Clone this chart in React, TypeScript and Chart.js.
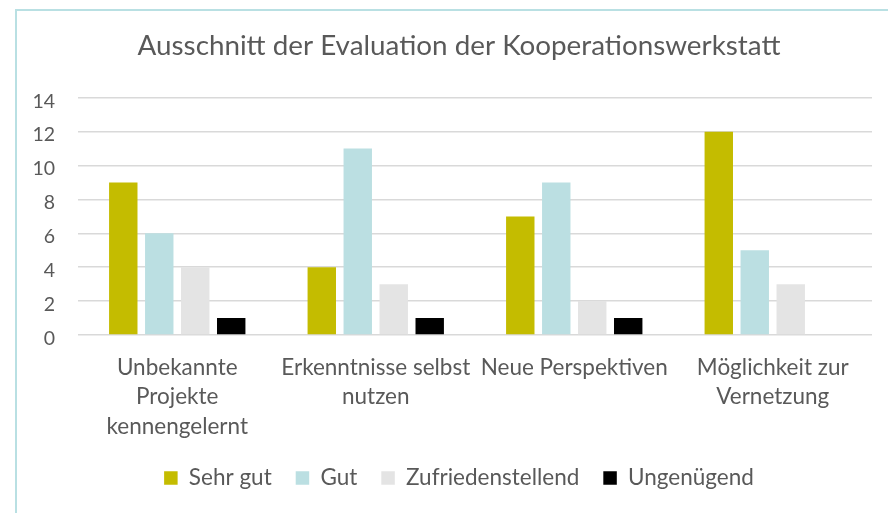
import React, { useEffect, useRef } from "react";
import { Chart, registerables } from "chart.js";

Chart.register(...registerables);

const categories: string[][] = [
  ["Unbekannte", "Projekte", "kennengelernt"],
  ["Erkenntnisse selbst", "nutzen"],
  ["Neue Perspektiven"],
  ["Möglichkeit zur", "Vernetzung"],
];
const seriesNames = ["Sehr gut", "Gut", "Zufriedenstellend", "Ungenügend"];
const sehrGut = [9, 4, 7, 12];
const gut = [6, 11, 9, 5];
const zufriedenstellend = [4, 3, 2, 3];
const ungenuegend: (number | null)[] = [1, 1, 1, null];
const yTickValues = [0, 2, 4, 6, 8, 10, 12, 14];
const titleText = "Ausschnitt der Evaluation der Kooperationswerkstatt";

const seriesColors = ["#c4bc00", "#bbdfe2", "#e4e4e4", "#000000"];
const textColor = "#595959";
const gridColor = "#d9d9d9";
const FONT = "Lato";

const CANVAS_W = 918;
const CANVAS_H = 513;

export default function App() {
  const ref = useRef<HTMLCanvasElement | null>(null);

  useEffect(() => {
    if (!ref.current) return;
    const values = [sehrGut, gut, zufriedenstellend, ungenuegend];
    const chart = new Chart(ref.current, {
      type: "bar",
      data: {
        labels: categories,
        datasets: seriesNames.map((name, i) => ({
          label: name,
          data: values[i],
          backgroundColor: seriesColors[i],
          borderWidth: 0,
          categoryPercentage: 0.725,
          barPercentage: 0.79,
          yAxisID: "y",
        })),
      },
      options: {
        responsive: false,
        animation: false,
        devicePixelRatio: 1,
        layout: { padding: { left: 0, right: 0, top: 0, bottom: 13.75 } },
        font: { family: FONT },
        plugins: {
          title: {
            display: true,
            text: titleText,
            color: textColor,
            font: { family: FONT, size: 27.8, weight: "normal", lineHeight: 1.2 },
            padding: { top: 29.3, bottom: 35.1 },
          },
          legend: {
            position: "bottom",
            labels: {
              color: textColor,
              font: { family: FONT, size: 22.5 },
              boxWidth: 13.5,
              boxHeight: 13.5,
              padding: 24,
            },
          },
          tooltip: { enabled: false },
        },
        scales: {
          x: {
            grid: { display: false, drawTicks: false },
            border: { display: false },
            ticks: {
              color: textColor,
              font: { family: FONT, size: 22.5, lineHeight: 29.5 / 22.5 },
              padding: 17.6,
              maxRotation: 0,
              minRotation: 0,
              autoSkip: false,
            },
            afterFit: (s: any) => {
              s.height = 107.75;
            },
          },
          y: {
            position: "left",
            min: 0,
            max: 14,
            grid: { color: gridColor, lineWidth: 1.5, drawTicks: false },
            border: { display: false },
            afterBuildTicks: (s: any) => {
              s.ticks = yTickValues.map((v) => ({ value: v }));
            },
            ticks: {
              color: textColor,
              font: { family: FONT, size: 19.5 },
              padding: 23,
              labelOffset: 3.5,
            },
            afterFit: (s: any) => {
              s.width = 78;
            },
          },
          yRight: {
            type: "linear",
            position: "right",
            display: true,
            grid: { display: false, drawTicks: false },
            border: { display: false },
            ticks: { display: false },
            afterFit: (s: any) => {
              s.width = CANVAS_W - 872;
            },
          },
        },
      },
    } as any);
    return () => chart.destroy();
  }, []);

  return (
    <div
      style={{
        position: "fixed",
        left: 0,
        top: 0,
        width: 888,
        height: 513,
        overflow: "hidden",
        background: "#ffffff",
      }}
    >
      <div
        style={{
          position: "absolute",
          left: 15,
          top: 9,
          width: 940,
          height: 560,
          border: "2px solid #b9e0e3",
          boxSizing: "border-box",
        }}
      />
      <canvas
        ref={ref}
        width={CANVAS_W}
        height={CANVAS_H}
        style={{ position: "absolute", left: 0, top: 0, width: CANVAS_W, height: CANVAS_H }}
      />
    </div>
  );
}
